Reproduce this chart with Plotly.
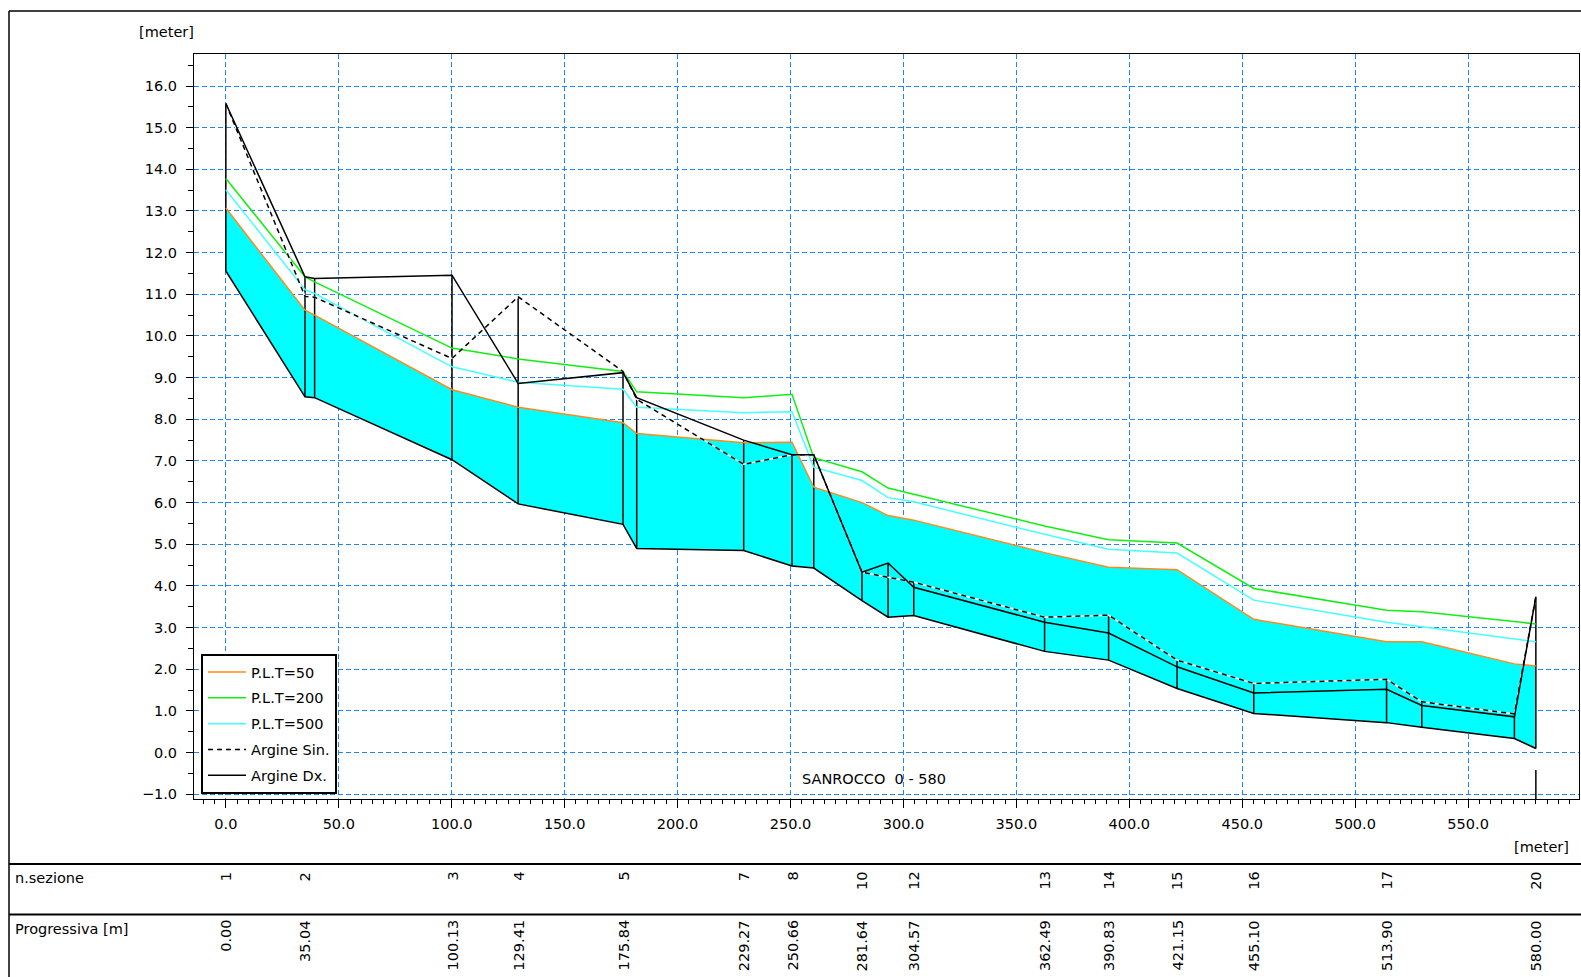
import plotly.graph_objects as go

# ---------------- data ----------------
# stations along the profile [m]
prog_all = [0.00, 35.04, 39.30, 100.13, 129.41, 175.84, 181.90, 229.27, 250.66, 260.30,
            281.64, 293.20, 304.57, 362.49, 390.83, 421.15, 455.10, 513.90, 529.50, 570.50, 580.00]
fondo = [11.56, 8.54, 8.52, 7.03, 5.97, 5.48, 4.90, 4.85, 4.48, 4.43,
         3.65, 3.25, 3.29, 2.43, 2.22, 1.54, 0.94, 0.72, 0.61, 0.34, 0.10]
plt50 = [13.07, 10.62, 10.50, 8.71, 8.29, 7.92, 7.66, 7.44, 7.45, 6.37,
         6.00, 5.69, 5.58, 4.80, 4.45, 4.39, 3.20, 2.66, 2.66, 2.13, 2.08]
plt200 = [13.78, 11.42, 11.30, 9.71, 9.45, 9.15, 8.66, 8.52, 8.60, 7.08,
          6.74, 6.35, 6.20, 5.44, 5.11, 5.03, 3.94, 3.42, 3.38, 3.14, 3.09]
plt500 = [13.51, 11.11, 11.02, 9.26, 8.89, 8.72, 8.29, 8.16, 8.18, 6.85,
          6.53, 6.12, 6.02, 5.24, 4.88, 4.79, 3.66, 3.13, 3.02, 2.74, 2.66]
argine_sin = [15.58, 10.95, 10.93, 9.46, 10.94, 9.15, 8.48, 6.92, 7.15, 7.15,
              4.33, 4.20, 4.09, 3.25, 3.30, 2.22, 1.66, 1.76, 1.22, 0.93, 3.74]
argine_dx = [15.58, 11.42, 11.38, 11.46, 8.86, 9.12, 8.52, 7.50, 7.15, 7.15,
             4.33, 4.55, 3.97, 3.13, 2.87, 2.06, 1.43, 1.52, 1.13, 0.86, 3.74]

# table rows
sez_labels = ['1', '2', '3', '4', '5', '7', '8', '10', '12', '13', '14', '15', '16', '17', '20']
prog_labels = [0.00, 35.04, 100.13, 129.41, 175.84, 229.27, 250.66, 281.64, 304.57,
               362.49, 390.83, 421.15, 455.10, 513.90, 580.00]

# ---------------- layout helpers ----------------
W, H = 1581, 977
PL, PR, PT, PB = 194, 1579, 54, 799
X_RANGE = [-14.1, 599.1]
Y_RANGE = [-1.113, 16.768]
FONT = "DejaVu Sans"
FS = 14.5


def px_x(p):
    return (p - PL) / (PR - PL)


def px_y(p):
    return (PB - p) / (PB - PT)


ORANGE = '#FF8A1C'
GREEN = '#10F010'
CYAN_L = '#45FFFF'
FILL = '#00FFFF'
GRID = '#1F85FF'

fig = go.Figure()

# bed (bottom of fill)
fig.add_trace(go.Scatter(x=prog_all, y=fondo, mode='lines', line=dict(color='black', width=1.5),
                         showlegend=False, hoverinfo='skip'))
# water fill to P.L.T=50
fig.add_trace(go.Scatter(x=prog_all, y=plt50, mode='lines', line=dict(width=0, color=FILL),
                         fill='tonexty', fillcolor=FILL, showlegend=False, hoverinfo='skip'))

# section verticals (bed -> highest bank)
vx, vy = [], []
for xi, b, s, d in zip(prog_all, fondo, argine_sin, argine_dx):
    vx += [xi, xi, None]
    vy += [b, max(s, d), None]
fig.add_trace(go.Scatter(x=vx, y=vy, mode='lines', line=dict(color='black', width=1.5),
                         showlegend=False, hoverinfo='skip'))

fig.add_trace(go.Scatter(x=prog_all, y=plt50, mode='lines', name='P.L.T=50',
                         line=dict(color=ORANGE, width=1.5), legendgroup='a', legendrank=1))
fig.add_trace(go.Scatter(x=prog_all, y=plt200, mode='lines', name='P.L.T=200',
                         line=dict(color=GREEN, width=1.5), legendgroup='b', legendrank=2))
fig.add_trace(go.Scatter(x=prog_all, y=plt500, mode='lines', name='P.L.T=500',
                         line=dict(color=CYAN_L, width=1.5), legendgroup='c', legendrank=3))
# opaque background of the dashed bank line
fig.add_trace(go.Scatter(x=prog_all, y=argine_sin, mode='lines', line=dict(color='white', width=1.5),
                         showlegend=False, hoverinfo='skip'))
fig.add_trace(go.Scatter(x=prog_all, y=argine_sin, mode='lines', name='Argine Sin.',
                         line=dict(color='black', width=1.5, dash='5px,4px'), legendgroup='d', legendrank=4))
fig.add_trace(go.Scatter(x=prog_all, y=argine_dx, mode='lines', name='Argine Dx.',
                         line=dict(color='black', width=1.5), legendgroup='e', legendrank=5))

annotations = []
tfont = dict(family=FONT, size=FS, color='black')
for s, p in zip(sez_labels, prog_labels):
    annotations.append(dict(x=p, xref='x', y=px_y(870), yref='paper', text=s, textangle=-90,
                            xanchor='center', yanchor='top', showarrow=False, font=tfont))
    annotations.append(dict(x=p, xref='x', y=px_y(918), yref='paper', text='%.2f' % p, textangle=-90,
                            xanchor='center', yanchor='top', showarrow=False, font=tfont))

annotations += [
    dict(x=px_x(13), y=px_y(878), xref='paper', yref='paper', text='n.sezione', xanchor='left',
         yanchor='middle', showarrow=False, font=tfont),
    dict(x=px_x(13), y=px_y(929), xref='paper', yref='paper', text='Progressiva [m]', xanchor='left',
         yanchor='middle', showarrow=False, font=tfont),
    dict(x=px_x(166), y=px_y(32), xref='paper', yref='paper', text='[meter]', xanchor='center',
         yanchor='middle', showarrow=False, font=tfont),
    dict(x=px_x(1541), y=px_y(847), xref='paper', yref='paper', text='[meter]', xanchor='center',
         yanchor='middle', showarrow=False, font=tfont),
    dict(x=px_x(800), y=px_y(779), xref='paper', yref='paper', text='SANROCCO \u00a00 - 580',
         xanchor='left', yanchor='middle', showarrow=False, font=tfont),
]

shapes = [
    # outer frame
    dict(type='line', xref='paper', yref='paper', x0=px_x(9), x1=px_x(9), y0=px_y(11), y1=px_y(980),
         line=dict(color='black', width=1.5)),
    dict(type='line', xref='paper', yref='paper', x0=px_x(9), x1=px_x(1585), y0=px_y(11), y1=px_y(11),
         line=dict(color='black', width=1.5)),
    # table rows
    dict(type='line', xref='paper', yref='paper', x0=px_x(9), x1=px_x(1585), y0=px_y(864), y1=px_y(864),
         line=dict(color='black', width=2)),
    dict(type='line', xref='paper', yref='paper', x0=px_x(9), x1=px_x(1585), y0=px_y(914.5), y1=px_y(914.5),
         line=dict(color='black', width=2)),
    # end-of-reach marker
    dict(type='line', xref='x', yref='paper', x0=prog_all[-1], x1=prog_all[-1], y0=0, y1=px_y(770),
         line=dict(color='black', width=1.5)),
]

axis_common = dict(showgrid=True, gridcolor=GRID, griddash='5px,3px', gridwidth=1,
                   showline=True, linecolor='black', linewidth=1, mirror=True,
                   ticks='outside', tickcolor='black', zeroline=False,
                   tickfont=dict(family=FONT, size=FS, color='black'))

fig.update_layout(
    width=W, height=H,
    margin=dict(l=PL, r=W - PR, t=PT, b=H - PB, pad=0),
    paper_bgcolor='white', plot_bgcolor='white',
    font=dict(family=FONT, size=FS, color='black'),
    xaxis=dict(range=X_RANGE, tick0=0, dtick=50, tickformat='.1f', ticklen=8,
               ticklabelstandoff=4,
               minor=dict(dtick=5, ticks='outside', ticklen=4, tickcolor='black', showgrid=False),
               **axis_common),
    yaxis=dict(range=Y_RANGE, tick0=0, dtick=1, tickformat='.1f', ticklen=7,
               ticklabelstandoff=6,
               minor=dict(dtick=0.5, ticks='outside', ticklen=5, tickcolor='black', showgrid=False),
               **axis_common),
    legend=dict(x=px_x(201), y=px_y(654), xanchor='left', yanchor='top', bgcolor='white',
                bordercolor='black', borderwidth=2, font=dict(family=FONT, size=FS, color='black'),
                tracegroupgap=4, itemwidth=38, entrywidth=96, entrywidthmode='pixels'),
    annotations=annotations,
    shapes=shapes,
)

fig.write_html("out.html", config={'displayModeBar': False},
               post_script="document.body.style.margin='0';document.body.style.overflow='hidden';")
